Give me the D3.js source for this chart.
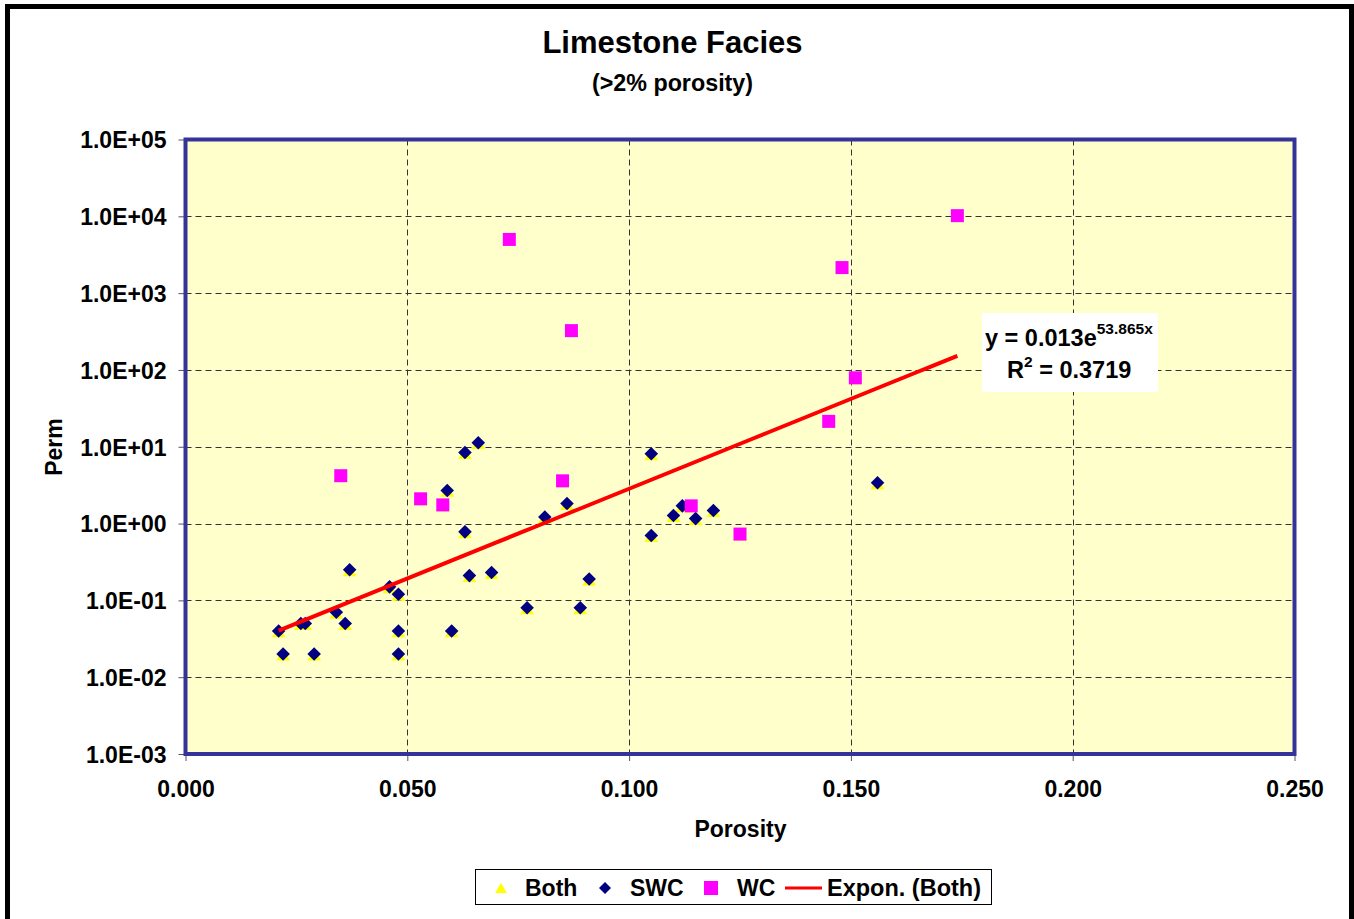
<!DOCTYPE html>
<html>
<head>
<meta charset="utf-8">
<script src="https://cdn.jsdelivr.net/npm/d3@7"></script>
<style>
  body { margin: 0; background: #fff; }
  svg text { font-family: "Liberation Sans", Arial, sans-serif; font-weight: bold; fill: #000; }
</style>
</head>
<body>
<svg id="chart" width="1354" height="919"></svg>
<script>
// SWC samples (diamonds)
const swcPorosity = [0.021, 0.022, 0.026, 0.027, 0.029, 0.034, 0.036, 0.037, 0.046, 0.048, 0.048, 0.048,
  0.059, 0.060, 0.063, 0.063, 0.064, 0.066, 0.069, 0.077, 0.081, 0.086, 0.089, 0.091,
  0.105, 0.105, 0.110, 0.112, 0.115, 0.119, 0.156];
const swcPerm = [0.040, 0.020, 0.050, 0.050, 0.020, 0.070, 0.050, 0.25, 0.15, 0.12, 0.040, 0.020,
  2.7, 0.040, 8.4, 0.78, 0.21, 11.3, 0.23, 0.080, 1.22, 1.82, 0.080, 0.19,
  8.1, 0.70, 1.27, 1.7, 1.16, 1.48, 3.4];

// WC samples (squares)
const wcPorosity = [0.035, 0.053, 0.058, 0.073, 0.085, 0.087, 0.114, 0.125, 0.145, 0.148, 0.151, 0.174];
const wcPerm = [4.2, 2.1, 1.75, 5000, 3.6, 325, 1.7, 0.73, 21.4, 2150, 79, 10200];

// trend line fitted on both sets: y = 0.013 e^(53.865x)
const trendA = 0.013;
const trendB = 53.865;
const trendR2 = 0.3719;

const xTicks = [0, 0.05, 0.10, 0.15, 0.20, 0.25];
const xTickLabels = ["0.000", "0.050", "0.100", "0.150", "0.200", "0.250"];
const yTicks = [1e-3, 1e-2, 1e-1, 1e0, 1e1, 1e2, 1e3, 1e4, 1e5];
const yTickLabels = ["1.0E-03", "1.0E-02", "1.0E-01", "1.0E+00", "1.0E+01", "1.0E+02", "1.0E+03", "1.0E+04", "1.0E+05"];

const svg = d3.select("#chart");
const plot = { left: 185.5, right: 1294.5, top: 139.5, bottom: 754 };
const fs = "23px";

const x = d3.scaleLinear().domain([0, 0.25]).range([plot.left, plot.right]);
const y = d3.scaleLog().domain([1e-3, 1e5]).range([plot.bottom, plot.top]);

// chart frame
svg.append("rect")
    .attr("x", 7.5).attr("y", 6.5).attr("width", 1344).attr("height", 1000)
    .attr("fill", "#fff").attr("stroke", "#000").attr("stroke-width", 5);

// titles
svg.append("text").attr("x", 672.5).attr("y", 53).attr("text-anchor", "middle")
    .style("font-size", "31px").text("Limestone Facies");
svg.append("text").attr("x", 672.5).attr("y", 91).attr("text-anchor", "middle")
    .style("font-size", "23.3px").text("(>2% porosity)");

// plot background
svg.append("rect")
    .attr("x", plot.left).attr("y", plot.top)
    .attr("width", plot.right - plot.left).attr("height", plot.bottom - plot.top)
    .attr("fill", "#FFFFCC");

// gridlines
const grid = svg.append("g").attr("stroke", "#333").attr("stroke-width", 1).attr("stroke-dasharray", "6,4");
grid.selectAll(".vg").data(xTicks.slice(1, -1)).join("line")
    .attr("x1", d => Math.round(x(d)) + 0.5).attr("x2", d => Math.round(x(d)) + 0.5)
    .attr("y1", plot.top).attr("y2", plot.bottom);
grid.selectAll(".hg").data(yTicks.slice(1, -1)).join("line")
    .attr("y1", d => Math.round(y(d)) + 0.5).attr("y2", d => Math.round(y(d)) + 0.5)
    .attr("x1", plot.left).attr("x2", plot.right);

// axes
const xAxis = d3.axisBottom(x).tickValues(xTicks).tickFormat((d, i) => xTickLabels[i])
    .tickSizeInner(7).tickSizeOuter(0);
const yAxis = d3.axisLeft(y).tickValues(yTicks).tickFormat((d, i) => yTickLabels[i])
    .tickSizeInner(7).tickSizeOuter(0).tickPadding(12);

const gx = svg.append("g").attr("transform", `translate(0,${plot.bottom})`).call(xAxis);
const gy = svg.append("g").attr("transform", `translate(${plot.left},0)`).call(yAxis);
[gx, gy].forEach(g => {
  g.select(".domain").remove();
  g.selectAll(".tick line").attr("stroke", "#555");
  g.selectAll(".tick text").style("font-size", fs).style("font-family", null);
});
gx.selectAll(".tick text").attr("dy", null).attr("y", 43);
gy.selectAll(".tick text").attr("dy", "0.36em");

// plot border
svg.append("rect")
    .attr("x", plot.left).attr("y", plot.top)
    .attr("width", plot.right - plot.left).attr("height", plot.bottom - plot.top)
    .attr("fill", "none").attr("stroke", "#333399").attr("stroke-width", 4);

// axis titles
svg.append("text").attr("x", 740.5).attr("y", 837).attr("text-anchor", "middle")
    .style("font-size", fs).text("Porosity");
svg.append("text").attr("transform", "translate(62,447) rotate(-90)").attr("text-anchor", "middle")
    .style("font-size", fs).text("Perm");

// markers
const swcData = swcPorosity.map((p, i) => [p, swcPerm[i]]);
const wcData = wcPorosity.map((p, i) => [p, wcPerm[i]]);
const bothData = swcData.concat(wcData);

const triangle = d3.symbol(d3.symbolTriangle, 80);
const diamond = d3.symbol(d3.symbolSquare, 92);
const square = d3.symbol(d3.symbolSquare, 169);

svg.append("g").selectAll("path").data(bothData).join("path")
    .attr("d", triangle)
    .attr("transform", d => `translate(${x(d[0])},${y(d[1]) + 2.5})`)
    .attr("fill", "#FFFF00");

svg.append("g").selectAll("path").data(swcData).join("path")
    .attr("d", diamond)
    .attr("transform", d => `translate(${x(d[0])},${y(d[1])}) rotate(45)`)
    .attr("fill", "#000080");

svg.append("g").selectAll("path").data(wcData).join("path")
    .attr("d", square)
    .attr("transform", d => `translate(${x(d[0])},${y(d[1])})`)
    .attr("fill", "#FF00FF");

// exponential trendline across the range of the combined data
const xMin = d3.min(bothData, d => d[0]);
const xMax = d3.max(bothData, d => d[0]);
const trendPts = d3.range(0, 51).map(i => {
  const px = xMin + (xMax - xMin) * i / 50;
  return [px, trendA * Math.exp(trendB * px)];
});
svg.append("path")
    .datum(trendPts)
    .attr("d", d3.line().x(d => x(d[0])).y(d => y(d[1])))
    .attr("fill", "none").attr("stroke", "#FF0000").attr("stroke-width", 4);

// equation label
svg.append("rect").attr("x", 982).attr("y", 313).attr("width", 176).attr("height", 79).attr("fill", "#fff");
const eq1 = svg.append("text").attr("x", 985).attr("y", 346).style("font-size", "23.5px");
eq1.append("tspan").text(`y = ${trendA}e`);
eq1.append("tspan").attr("dy", -12).style("font-size", "15.5px").text(`${trendB}x`);
const eq2 = svg.append("text").attr("x", 1007).attr("y", 378).style("font-size", "23.5px");
eq2.append("tspan").text("R");
eq2.append("tspan").attr("dy", -11).style("font-size", "15.5px").text("2");
eq2.append("tspan").attr("dy", 11).text(` = ${trendR2}`);

// legend
const legend = svg.append("g");
legend.append("rect").attr("x", 475.5).attr("y", 869.5).attr("width", 516).attr("height", 35)
    .attr("fill", "#fff").attr("stroke", "#000").attr("stroke-width", 1);
const legendItems = [
  { name: "Both", sym: d3.symbol(d3.symbolTriangle, 60), color: "#FFFF00", cx: 501, tx: 525, dy: 1.5 },
  { name: "SWC", sym: d3.symbol(d3.symbolSquare, 72), color: "#000080", cx: 605, tx: 630, rot: 45 },
  { name: "WC", sym: d3.symbol(d3.symbolSquare, 196), color: "#FF00FF", cx: 711, tx: 737 },
];
legendItems.forEach(it => {
  legend.append("path").attr("d", it.sym)
      .attr("transform", `translate(${it.cx},${888 + (it.dy || 0)}) rotate(${it.rot || 0})`)
      .attr("fill", it.color);
  legend.append("text").attr("x", it.tx).attr("y", 896).style("font-size", fs).text(it.name);
});
legend.append("line").attr("x1", 785).attr("x2", 822).attr("y1", 888).attr("y2", 888)
    .attr("stroke", "#FF0000").attr("stroke-width", 3);
legend.append("text").attr("x", 827).attr("y", 896).style("font-size", "23.5px").text("Expon. (Both)");
</script>
</body>
</html>
